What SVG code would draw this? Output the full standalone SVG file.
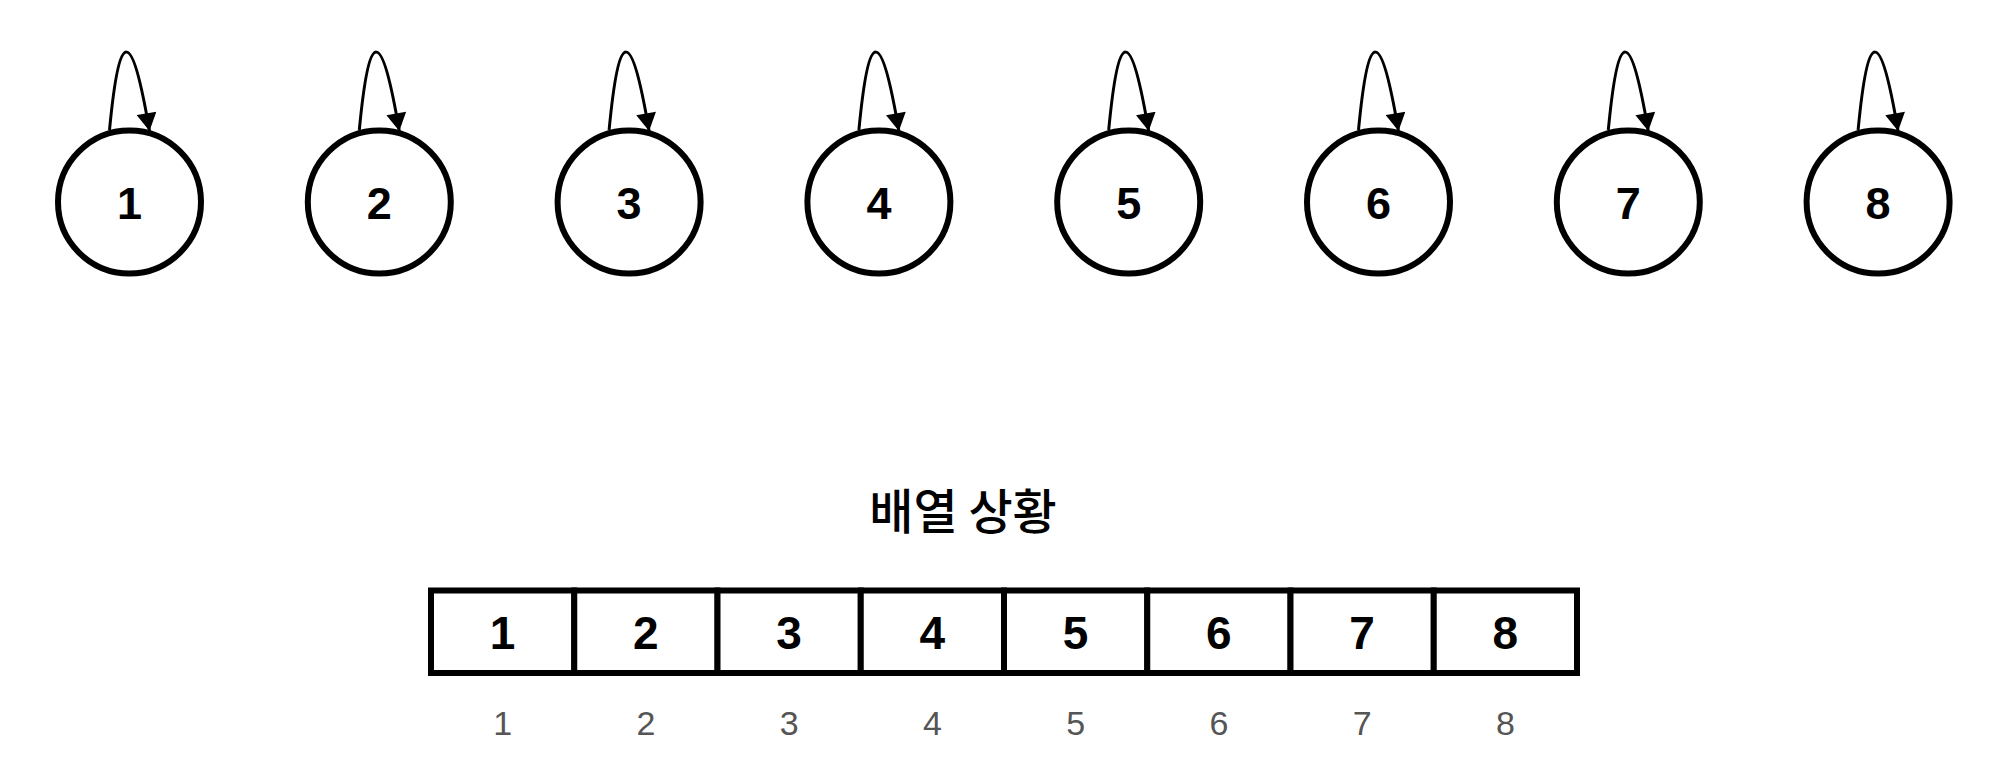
<svg xmlns="http://www.w3.org/2000/svg" width="2000" height="784" viewBox="0 0 2000 784">
<style>
.node circle{fill:#fff;stroke:#000;stroke-width:6}
.nl{font-family:"Liberation Sans",Arial,sans-serif;font-weight:bold;font-size:45px;fill:#000;text-anchor:middle}
.loop{fill:none;stroke:#000;stroke-width:3}
.cell rect{fill:#fff;stroke:#000;stroke-width:6}
.cl{font-family:"Liberation Sans",Arial,sans-serif;font-weight:bold;font-size:46px;fill:#000;text-anchor:middle}
.idx{font-family:"Liberation Sans",Arial,sans-serif;font-size:34px;fill:#555;text-anchor:middle}
.title{font-family:"Noto Sans CJK KR","Noto Sans",sans-serif;font-weight:500;font-size:48px;fill:#000;text-anchor:middle}
</style>
<defs>
<marker id="ah" markerUnits="userSpaceOnUse" markerWidth="20" markerHeight="20" viewBox="0 0 16 18" refX="16" refY="9" orient="auto">
<path d="M0,0 L16,9 L0,18 Z" fill="#000"/>
</marker>
</defs>
<rect width="2000" height="784" fill="#fff"/>
<g id="connectors">
<path class="loop" marker-end="url(#ah)" d="M109.5,130 C119.5,26 131.5,26 149.5,131"/>
<path class="loop" marker-end="url(#ah)" d="M359.3,130 C369.3,26 381.3,26 399.3,131"/>
<path class="loop" marker-end="url(#ah)" d="M609.1,130 C619.1,26 631.1,26 649.1,131"/>
<path class="loop" marker-end="url(#ah)" d="M858.9,130 C868.9,26 880.9,26 898.9,131"/>
<path class="loop" marker-end="url(#ah)" d="M1108.7,130 C1118.7,26 1130.7,26 1148.7,131"/>
<path class="loop" marker-end="url(#ah)" d="M1358.5,130 C1368.5,26 1380.5,26 1398.5,131"/>
<path class="loop" marker-end="url(#ah)" d="M1608.3,130 C1618.3,26 1630.3,26 1648.3,131"/>
<path class="loop" marker-end="url(#ah)" d="M1858.1,130 C1868.1,26 1880.1,26 1898.1,131"/>
</g>
<g id="node1" class="node"><circle cx="129.5" cy="202" r="71.5"/><text class="nl" x="129.5" y="219">1</text></g>
<g id="node2" class="node"><circle cx="379.3" cy="202" r="71.5"/><text class="nl" x="379.3" y="219">2</text></g>
<g id="node3" class="node"><circle cx="629.1" cy="202" r="71.5"/><text class="nl" x="629.1" y="219">3</text></g>
<g id="node4" class="node"><circle cx="878.9" cy="202" r="71.5"/><text class="nl" x="878.9" y="219">4</text></g>
<g id="node5" class="node"><circle cx="1128.7" cy="202" r="71.5"/><text class="nl" x="1128.7" y="219">5</text></g>
<g id="node6" class="node"><circle cx="1378.5" cy="202" r="71.5"/><text class="nl" x="1378.5" y="219">6</text></g>
<g id="node7" class="node"><circle cx="1628.3" cy="202" r="71.5"/><text class="nl" x="1628.3" y="219">7</text></g>
<g id="node8" class="node"><circle cx="1878.1" cy="202" r="71.5"/><text class="nl" x="1878.1" y="219">8</text></g>
<g id="title"><text class="title" x="963" y="508" dominant-baseline="central">배열 상황</text></g>
<g id="array">
<g id="cell1" class="cell"><rect x="431" y="590.5" width="143.25" height="82.5"/><text class="cl" x="502.6" y="649">1</text><text class="idx" x="502.6" y="735">1</text></g>
<g id="cell2" class="cell"><rect x="574.25" y="590.5" width="143.25" height="82.5"/><text class="cl" x="645.9" y="649">2</text><text class="idx" x="645.9" y="735">2</text></g>
<g id="cell3" class="cell"><rect x="717.5" y="590.5" width="143.25" height="82.5"/><text class="cl" x="789.1" y="649">3</text><text class="idx" x="789.1" y="735">3</text></g>
<g id="cell4" class="cell"><rect x="860.75" y="590.5" width="143.25" height="82.5"/><text class="cl" x="932.4" y="649">4</text><text class="idx" x="932.4" y="735">4</text></g>
<g id="cell5" class="cell"><rect x="1004" y="590.5" width="143.25" height="82.5"/><text class="cl" x="1075.6" y="649">5</text><text class="idx" x="1075.6" y="735">5</text></g>
<g id="cell6" class="cell"><rect x="1147.25" y="590.5" width="143.25" height="82.5"/><text class="cl" x="1218.9" y="649">6</text><text class="idx" x="1218.9" y="735">6</text></g>
<g id="cell7" class="cell"><rect x="1290.5" y="590.5" width="143.25" height="82.5"/><text class="cl" x="1362.1" y="649">7</text><text class="idx" x="1362.1" y="735">7</text></g>
<g id="cell8" class="cell"><rect x="1433.75" y="590.5" width="143.25" height="82.5"/><text class="cl" x="1505.4" y="649">8</text><text class="idx" x="1505.4" y="735">8</text></g>
</g>
</svg>
